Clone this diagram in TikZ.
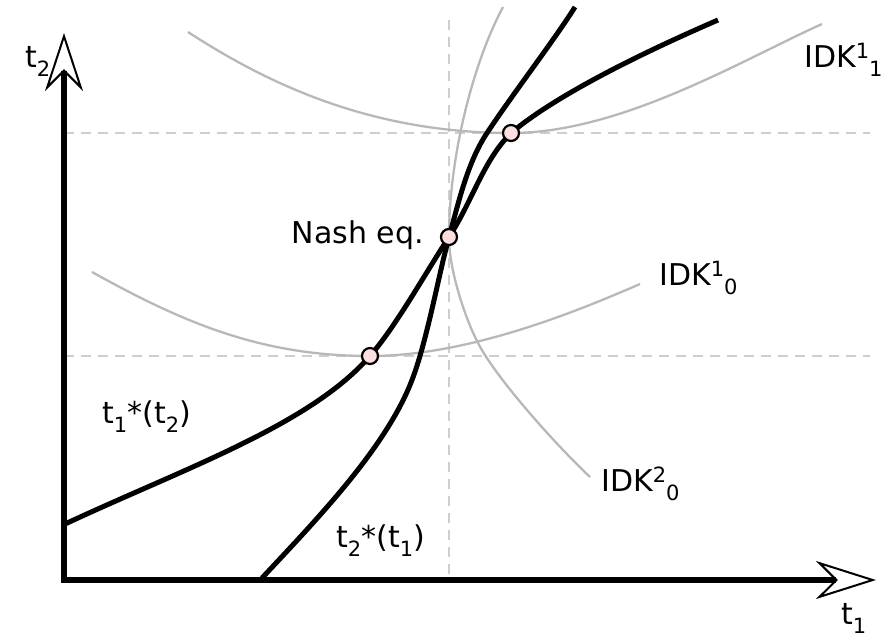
\documentclass[tikz,border=0pt]{standalone}
\usepackage{fontspec}
\setmainfont{DejaVu Sans}
\usetikzlibrary{arrows.meta}
\definecolor{curvegray}{RGB}{184,184,184}
\definecolor{dashgray}{RGB}{206,206,206}
\definecolor{ptfill}{RGB}{253,222,222}
\newcommand\lo[1]{\raisebox{-0.33em}{\fontsize{21}{21}\selectfont #1}}
\newcommand\hi[1]{\raisebox{0.3em}{\fontsize{21}{21}\selectfont #1}}
\tikzset{
  axisline/.style={line width=5.5pt, line join=miter,
    {Stealth[open, length=58pt, width=38pt, inset=19pt, line width=2pt]}-{Stealth[open, length=60pt, width=38pt, inset=19pt, line width=2pt]}},
  guide/.style={dashgray, line width=2pt, dash pattern=on 10pt off 7pt},
  idk/.style={curvegray, line width=2.3pt},
  resp/.style={black, line width=5pt},
  eqpt/.style={circle, draw=black, fill=ptfill, line width=2.2pt, minimum size=16pt, inner sep=0pt},
  lbl/.style={inner sep=0pt, font=\fontsize{30}{36}\selectfont}
}
\begin{document}
\begin{tikzpicture}[x=1pt, y=-1pt]
\useasboundingbox (0,0) rectangle (882,638);
% guide lines
\draw[guide] (449,20) -- (449,580);
\draw[guide] (64,133) -- (870,133);
\draw[guide] (64,356) -- (870,356);
% iso-profit curves
\draw[idk] (188,32) .. controls (268,84) and (371,133) .. (511,133)
                    .. controls (621,133) and (742,60) .. (822,24);
\draw[idk] (92,272) .. controls (182,322) and (260,356) .. (370,356)
                    .. controls (470,356) and (580,310) .. (640,284);
\draw[idk] (503,7) .. controls (473,63) and (449,157) .. (449,237)
                   .. controls (449,270) and (465,318) .. (478,343)
                   .. controls (496,378) and (555,444) .. (590,477);
% reaction functions
\draw[resp] (65,524) .. controls (185,468) and (310,425) .. (370,356)
                     .. controls (396,326) and (423,277) .. (449,237)
                     .. controls (473,200) and (483,161) .. (511,133)
                     .. controls (561,91) and (658,46) .. (718,20);
\draw[resp] (262,578) .. controls (317,519) and (386,448) .. (412,380)
                      .. controls (427,341) and (439,273) .. (449,237)
                      .. controls (458,205) and (467,163) .. (487,133)
                      .. controls (512,95) and (555,39) .. (575,7);
% axes
\coordinate (ytip) at (64,33);
\coordinate (orig) at (64,580);
\coordinate (xtip) at (876,580);
\draw[axisline] (ytip) -- (orig) -- (xtip);
% points
\node[eqpt] (p0) at (370,356) {};
\node[eqpt] (nash) at (449,237) {};
\node[eqpt] (p1) at (511,133) {};
% labels
\node[lbl, anchor=base west] (lt2) at (25,67) {t\lo{2}};
\node[lbl, anchor=base west] (lt1) at (841,624) {t\lo{1}};
\node[lbl, anchor=base east] (lnash) at (424,243) {Nash eq.};
\node[lbl, anchor=base west] (l11) at (804,67) {IDK\hi{1}\lo{1}};
\node[lbl, anchor=base west] (l10) at (659,285) {IDK\hi{1}\lo{0}};
\node[lbl, anchor=base west] (l20) at (601,491) {IDK\hi{2}\lo{0}};
\node[lbl, anchor=base west] (lr1) at (102,423) {t\lo{1}*(t\lo{2})};
\node[lbl, anchor=base west] (lr2) at (336,547) {t\lo{2}*(t\lo{1})};
\end{tikzpicture}
\end{document}
